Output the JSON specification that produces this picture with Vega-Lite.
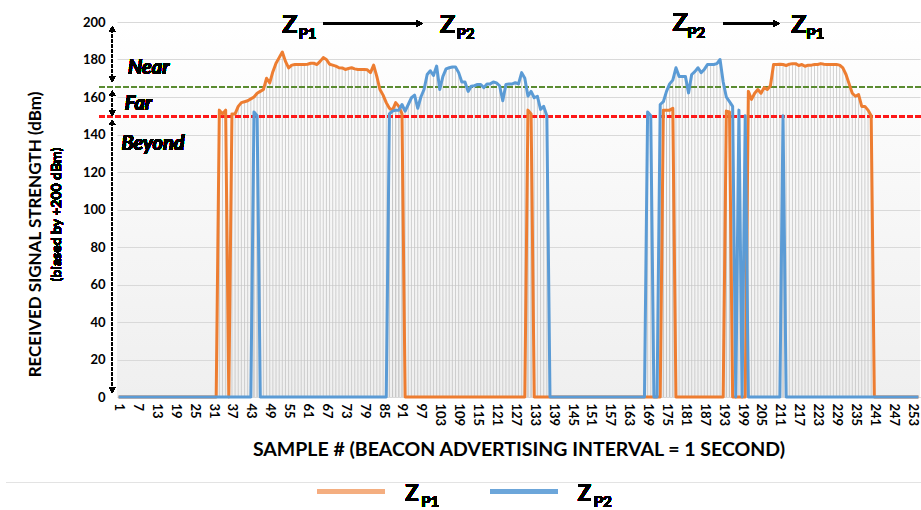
{
"$schema": "https://vega.github.io/schema/vega-lite/v6.json",
"width": 803, "height": 375,
"autosize": {"type": "none"},
"padding": {"left": 117, "top": 22, "right": 1, "bottom": 113},
"background": "white",
"config": {"font": "Lato", "view": {"stroke": null, "fill": {"gradient": "linear", "x1": 0, "y1": 0, "x2": 0, "y2": 1, "stops": [{"offset": 0, "color": "#ffffff"}, {"offset": 1, "color": "#efefef"}]}},
  "axis": {"labelOverlap": false, "labelFlush": false, "labelFontWeight": "bold", "labelColor": "#000", "titleColor": "#000", "titleFontWeight": "bold", "ticks": false}},
"resolve": {"axis": {"x": "independent", "y": "independent"}},
"data": {"values": [
{"s":1,"p1":0,"p2":0},{"s":2,"p1":0,"p2":0},{"s":3,"p1":0,"p2":0},{"s":4,"p1":0,"p2":0},{"s":5,"p1":0,"p2":0},{"s":6,"p1":0,"p2":0},{"s":7,"p1":0,"p2":0},{"s":8,"p1":0,"p2":0},{"s":9,"p1":0,"p2":0},{"s":10,"p1":0,"p2":0},
{"s":11,"p1":0,"p2":0},{"s":12,"p1":0,"p2":0},{"s":13,"p1":0,"p2":0},{"s":14,"p1":0,"p2":0},{"s":15,"p1":0,"p2":0},{"s":16,"p1":0,"p2":0},{"s":17,"p1":0,"p2":0},{"s":18,"p1":0,"p2":0},{"s":19,"p1":0,"p2":0},{"s":20,"p1":0,"p2":0},
{"s":21,"p1":0,"p2":0},{"s":22,"p1":0,"p2":0},{"s":23,"p1":0,"p2":0},{"s":24,"p1":0,"p2":0},{"s":25,"p1":0,"p2":0},{"s":26,"p1":0,"p2":0},{"s":27,"p1":0,"p2":0},{"s":28,"p1":0,"p2":0},{"s":29,"p1":0,"p2":0},{"s":30,"p1":0,"p2":0},
{"s":31,"p1":0,"p2":0},{"s":32,"p1":0,"p2":0},{"s":33,"p1":153,"p2":0},{"s":34,"p1":151,"p2":0},{"s":35,"p1":153,"p2":0},{"s":36,"p1":0,"p2":0},{"s":37,"p1":151,"p2":0},{"s":38,"p1":151,"p2":0},{"s":39,"p1":155,"p2":0},{"s":40,"p1":157,"p2":0},
{"s":41,"p1":157.5,"p2":0},{"s":42,"p1":158,"p2":0},{"s":43,"p1":159,"p2":0},{"s":44,"p1":160,"p2":152},{"s":45,"p1":162,"p2":150},{"s":46,"p1":163,"p2":0},{"s":47,"p1":164,"p2":0},{"s":48,"p1":170,"p2":0},{"s":49,"p1":167.5,"p2":0},{"s":50,"p1":173.5,"p2":0},
{"s":51,"p1":178,"p2":0},{"s":52,"p1":181,"p2":0},{"s":53,"p1":184,"p2":0},{"s":54,"p1":179,"p2":0},{"s":55,"p1":175.5,"p2":0},{"s":56,"p1":177,"p2":0},{"s":57,"p1":177.3,"p2":0},{"s":58,"p1":177.3,"p2":0},{"s":59,"p1":177.3,"p2":0},{"s":60,"p1":177.3,"p2":0},
{"s":61,"p1":177.5,"p2":0},{"s":62,"p1":178,"p2":0},{"s":63,"p1":178,"p2":0},{"s":64,"p1":177.3,"p2":0},{"s":65,"p1":179,"p2":0},{"s":66,"p1":181,"p2":0},{"s":67,"p1":180,"p2":0},{"s":68,"p1":177.5,"p2":0},{"s":69,"p1":177,"p2":0},{"s":70,"p1":176.5,"p2":0},
{"s":71,"p1":175.6,"p2":0},{"s":72,"p1":175.5,"p2":0},{"s":73,"p1":174.7,"p2":0},{"s":74,"p1":175.2,"p2":0},{"s":75,"p1":175.6,"p2":0},{"s":76,"p1":175,"p2":0},{"s":77,"p1":174.7,"p2":0},{"s":78,"p1":174.7,"p2":0},{"s":79,"p1":174.7,"p2":0},{"s":80,"p1":174.5,"p2":0},
{"s":81,"p1":173,"p2":0},{"s":82,"p1":177,"p2":0},{"s":83,"p1":171,"p2":0},{"s":84,"p1":164,"p2":0},{"s":85,"p1":161,"p2":0},{"s":86,"p1":157,"p2":0},{"s":87,"p1":154,"p2":151},{"s":88,"p1":153,"p2":152.5},{"s":89,"p1":157,"p2":153},{"s":90,"p1":155,"p2":153},
{"s":91,"p1":151,"p2":156},{"s":92,"p1":0,"p2":152.5},{"s":93,"p1":0,"p2":156},{"s":94,"p1":0,"p2":159.6},{"s":95,"p1":0,"p2":161},{"s":96,"p1":0,"p2":154},{"s":97,"p1":0,"p2":160},{"s":98,"p1":0,"p2":164},{"s":99,"p1":0,"p2":172},{"s":100,"p1":0,"p2":174},
{"s":101,"p1":0,"p2":171.5},{"s":102,"p1":0,"p2":176.5},{"s":103,"p1":0,"p2":164},{"s":104,"p1":0,"p2":171},{"s":105,"p1":0,"p2":175},{"s":106,"p1":0,"p2":175.6},{"s":107,"p1":0,"p2":176},{"s":108,"p1":0,"p2":176},{"s":109,"p1":0,"p2":173},{"s":110,"p1":0,"p2":168},
{"s":111,"p1":0,"p2":168},{"s":112,"p1":0,"p2":163},{"s":113,"p1":0,"p2":165.8},{"s":114,"p1":0,"p2":166},{"s":115,"p1":0,"p2":166.7},{"s":116,"p1":0,"p2":166.7},{"s":117,"p1":0,"p2":165},{"s":118,"p1":0,"p2":167},{"s":119,"p1":0,"p2":167},{"s":120,"p1":0,"p2":168},
{"s":121,"p1":0,"p2":167.5},{"s":122,"p1":0,"p2":166},{"s":123,"p1":0,"p2":158},{"s":124,"p1":0,"p2":166.7},{"s":125,"p1":0,"p2":167},{"s":126,"p1":0,"p2":167},{"s":127,"p1":0,"p2":167.6},{"s":128,"p1":0,"p2":167},{"s":129,"p1":0,"p2":173},{"s":130,"p1":0,"p2":170},
{"s":131,"p1":153,"p2":160.5},{"s":132,"p1":151,"p2":163},{"s":133,"p1":0,"p2":159.6},{"s":134,"p1":0,"p2":160.4},{"s":135,"p1":0,"p2":153.4},{"s":136,"p1":0,"p2":155},{"s":137,"p1":0,"p2":150},{"s":138,"p1":0,"p2":0},{"s":139,"p1":0,"p2":0},{"s":140,"p1":0,"p2":0},
{"s":141,"p1":0,"p2":0},{"s":142,"p1":0,"p2":0},{"s":143,"p1":0,"p2":0},{"s":144,"p1":0,"p2":0},{"s":145,"p1":0,"p2":0},{"s":146,"p1":0,"p2":0},{"s":147,"p1":0,"p2":0},{"s":148,"p1":0,"p2":0},{"s":149,"p1":0,"p2":0},{"s":150,"p1":0,"p2":0},
{"s":151,"p1":0,"p2":0},{"s":152,"p1":0,"p2":0},{"s":153,"p1":0,"p2":0},{"s":154,"p1":0,"p2":0},{"s":155,"p1":0,"p2":0},{"s":156,"p1":0,"p2":0},{"s":157,"p1":0,"p2":0},{"s":158,"p1":0,"p2":0},{"s":159,"p1":0,"p2":0},{"s":160,"p1":0,"p2":0},
{"s":161,"p1":0,"p2":0},{"s":162,"p1":0,"p2":0},{"s":163,"p1":0,"p2":0},{"s":164,"p1":0,"p2":0},{"s":165,"p1":0,"p2":0},{"s":166,"p1":0,"p2":0},{"s":167,"p1":0,"p2":0},{"s":168,"p1":0,"p2":0},{"s":169,"p1":0,"p2":152},{"s":170,"p1":0,"p2":150},
{"s":171,"p1":0,"p2":0},{"s":172,"p1":0,"p2":0},{"s":173,"p1":0,"p2":156},{"s":174,"p1":153,"p2":157.5},{"s":175,"p1":153,"p2":163},{"s":176,"p1":153,"p2":167},{"s":177,"p1":154,"p2":169},{"s":178,"p1":0,"p2":175.6},{"s":179,"p1":0,"p2":171},{"s":180,"p1":0,"p2":171},
{"s":181,"p1":0,"p2":171},{"s":182,"p1":0,"p2":162.2},{"s":183,"p1":0,"p2":172},{"s":184,"p1":0,"p2":173.5},{"s":185,"p1":0,"p2":175.6},{"s":186,"p1":0,"p2":173},{"s":187,"p1":0,"p2":174.7},{"s":188,"p1":0,"p2":177.3},{"s":189,"p1":0,"p2":177.3},{"s":190,"p1":0,"p2":177.3},
{"s":191,"p1":0,"p2":177.8},{"s":192,"p1":0,"p2":180},{"s":193,"p1":0,"p2":168},{"s":194,"p1":152.5,"p2":160},{"s":195,"p1":152,"p2":157.5},{"s":196,"p1":0,"p2":155},{"s":197,"p1":0,"p2":0},{"s":198,"p1":0,"p2":153},{"s":199,"p1":0,"p2":0},{"s":200,"p1":0,"p2":150},
{"s":201,"p1":163,"p2":0},{"s":202,"p1":158.7,"p2":0},{"s":203,"p1":162,"p2":0},{"s":204,"p1":164,"p2":0},{"s":205,"p1":162,"p2":0},{"s":206,"p1":165,"p2":0},{"s":207,"p1":164,"p2":0},{"s":208,"p1":166,"p2":0},{"s":209,"p1":177.3,"p2":0},{"s":210,"p1":177.3,"p2":0},
{"s":211,"p1":177.5,"p2":0},{"s":212,"p1":177.3,"p2":150},{"s":213,"p1":176.8,"p2":0},{"s":214,"p1":177.5,"p2":0},{"s":215,"p1":177.8,"p2":0},{"s":216,"p1":177.8,"p2":0},{"s":217,"p1":176.8,"p2":0},{"s":218,"p1":177.3,"p2":0},{"s":219,"p1":176.4,"p2":0},{"s":220,"p1":177,"p2":0},
{"s":221,"p1":177,"p2":0},{"s":222,"p1":177.3,"p2":0},{"s":223,"p1":177.3,"p2":0},{"s":224,"p1":177.8,"p2":0},{"s":225,"p1":177.5,"p2":0},{"s":226,"p1":177.3,"p2":0},{"s":227,"p1":177.3,"p2":0},{"s":228,"p1":177.3,"p2":0},{"s":229,"p1":177.3,"p2":0},{"s":230,"p1":177,"p2":0},
{"s":231,"p1":175.5,"p2":0},{"s":232,"p1":172,"p2":0},{"s":233,"p1":167,"p2":0},{"s":234,"p1":162,"p2":0},{"s":235,"p1":160.4,"p2":0},{"s":236,"p1":161.3,"p2":0},{"s":237,"p1":155,"p2":0},{"s":238,"p1":155,"p2":0},{"s":239,"p1":153,"p2":0},{"s":240,"p1":150,"p2":0},
{"s":241,"p1":0,"p2":0},{"s":242,"p1":0,"p2":0},{"s":243,"p1":0,"p2":0},{"s":244,"p1":0,"p2":0},{"s":245,"p1":0,"p2":0},{"s":246,"p1":0,"p2":0},{"s":247,"p1":0,"p2":0},{"s":248,"p1":0,"p2":0},{"s":249,"p1":0,"p2":0},{"s":250,"p1":0,"p2":0},
{"s":251,"p1":0,"p2":0},{"s":252,"p1":0,"p2":0},{"s":253,"p1":0,"p2":0},{"s":254,"p1":0,"p2":0},{"s":255,"p1":0,"p2":0}
]},
"layer": [
{"transform": [{"filter": "datum.p1 > 0"}],
 "mark": {"type": "rule", "color": "#c4c4c4", "strokeWidth": 0.8},
 "encoding": {
  "x": {"field": "s", "type": "quantitative", "title": "SAMPLE # (BEACON ADVERTISING INTERVAL = 1 SECOND)", "scale": {"domain": [0.5, 255.5], "nice": false, "zero": false},
        "axis": {"values": [1,7,13,19,25,31,37,43,49,55,61,67,73,79,85,91,97,103,109,115,121,127,133,139,145,151,157,163,169,175,181,187,193,199,205,211,217,223,229,235,241,247,253],
                 "labelAngle": 90, "labelAlign": "left", "labelBaseline": "middle", "labelFontSize": 13, "labelFontWeight": "bold", "labelColor": "#000", "labelPadding": 6, "labelOverlap": false, "labelFlush": false,
                 "ticks": false, "grid": false, "domain": true, "domainColor": "#d9d9d9",
                 "titleFontSize": 19.5, "titleFontWeight": "bold", "titleColor": "#000", "titlePadding": 15}},
  "y": {"field": "p1", "type": "quantitative", "title": "RECEIVED SIGNAL STRENGTH (dBm)", "scale": {"domain": [0, 200], "nice": false},
        "axis": {"values": [0,20,40,60,80,100,120,140,160,180,200], "grid": true, "gridColor": "#d9d9d9", "gridWidth": 1, "domain": false, "ticks": false,
                 "labelFontSize": 13, "labelFontWeight": "bold", "labelColor": "#000", "labelPadding": 12, "labelOverlap": false,
                 "titleFontSize": 17, "titleFontWeight": "bold", "titleColor": "#000",
                 "titleX": -82, "titleY": 212, "titleAngle": -90, "titleAlign": "center", "titleBaseline": "middle"}},
  "y2": {"datum": 0}}},
{"transform": [{"filter": "datum.p2 > 0"}],
 "mark": {"type": "rule", "color": "#c4c4c4", "strokeWidth": 0.8},
 "encoding": {"x": {"field": "s", "type": "quantitative", "axis": null}, "y": {"field": "p2", "type": "quantitative", "axis": null}, "y2": {"datum": 0}}},
{"mark": {"type": "rule", "color": "#5B8C32", "strokeDash": [5, 3], "strokeWidth": 1.5},
 "encoding": {"x": {"datum": -5, "axis": null}, "x2": {"datum": 256.1}, "y": {"datum": 165.4, "axis": null}}},
{"mark": {"type": "rule", "color": "#FF1A1A", "strokeDash": [5, 3], "strokeWidth": 1.5},
 "encoding": {"x": {"datum": -5, "axis": null}, "x2": {"datum": 256.1}, "y": {"datum": 149.6, "axis": null}}},
{"mark": {"type": "line", "color": "#ED7D31", "strokeWidth": 3, "strokeJoin": "round"},
 "encoding": {"x": {"field": "s", "type": "quantitative", "axis": null}, "y": {"field": "p1", "type": "quantitative", "axis": null}}},
{"mark": {"type": "line", "color": "#5B9BD5", "strokeWidth": 3, "strokeJoin": "round"},
 "encoding": {"x": {"field": "s", "type": "quantitative", "axis": null}, "y": {"field": "p2", "type": "quantitative", "axis": null}}},

{"mark": {"type": "rule", "color": "#000", "strokeDash": [3, 2], "strokeWidth": 1.2},
 "encoding": {"x": {"datum": -1, "axis": null}, "y": {"datum": 196, "axis": null}, "y2": {"datum": 169.5}}},
{"mark": {"type": "rule", "color": "#000", "strokeDash": [3, 2], "strokeWidth": 1.2},
 "encoding": {"x": {"datum": -1, "axis": null}, "y": {"datum": 162, "axis": null}, "y2": {"datum": 151.5}}},
{"mark": {"type": "rule", "color": "#000", "strokeDash": [3, 2], "strokeWidth": 1.2},
 "encoding": {"x": {"datum": -1, "axis": null}, "y": {"datum": 146.5, "axis": null}, "y2": {"datum": 3.5}}},
{"mark": {"type": "point", "shape": "triangle-up", "filled": true, "color": "#000", "opacity": 1, "size": 35},
 "encoding": {"x": {"datum": -1, "axis": null}, "y": {"datum": 196.2, "axis": null}}},
{"mark": {"type": "point", "shape": "triangle-down", "filled": true, "color": "#000", "opacity": 1, "size": 35},
 "encoding": {"x": {"datum": -1, "axis": null}, "y": {"datum": 169.5, "axis": null}}},
{"mark": {"type": "point", "shape": "triangle-up", "filled": true, "color": "#000", "opacity": 1, "size": 35},
 "encoding": {"x": {"datum": -1, "axis": null}, "y": {"datum": 162, "axis": null}}},
{"mark": {"type": "point", "shape": "triangle-down", "filled": true, "color": "#000", "opacity": 1, "size": 35},
 "encoding": {"x": {"datum": -1, "axis": null}, "y": {"datum": 151.4, "axis": null}}},
{"mark": {"type": "point", "shape": "triangle-up", "filled": true, "color": "#000", "opacity": 1, "size": 35},
 "encoding": {"x": {"datum": -1, "axis": null}, "y": {"datum": 146.4, "axis": null}}},
{"mark": {"type": "point", "shape": "triangle-down", "filled": true, "color": "#000", "opacity": 1, "size": 35},
 "encoding": {"x": {"datum": -1, "axis": null}, "y": {"datum": 3.6, "axis": null}}},

{"mark": {"type": "text", "text": "Near", "font": "Lato", "fontSize": 20, "fontWeight": "bold", "fontStyle": "italic", "align": "left", "baseline": "alphabetic", "color": "#000"},
 "encoding": {"x": {"datum": 4, "axis": null}, "y": {"datum": 172.5, "axis": null}}},
{"mark": {"type": "text", "text": "Far", "font": "Lato", "fontSize": 20, "fontWeight": "bold", "fontStyle": "italic", "align": "left", "baseline": "alphabetic", "color": "#000"},
 "encoding": {"x": {"datum": 3, "axis": null}, "y": {"datum": 153.2, "axis": null}}},
{"mark": {"type": "text", "text": "Beyond", "font": "Lato", "fontSize": 20, "fontWeight": "bold", "fontStyle": "italic", "align": "left", "baseline": "alphabetic", "color": "#000"},
 "encoding": {"x": {"datum": 1.9, "axis": null}, "y": {"datum": 131.5, "axis": null}}},

{"mark": {"type": "text", "text": "(biased by +200 dBm)", "font": "Lato", "fontSize": 14, "fontWeight": "bold", "angle": 270, "align": "center", "baseline": "middle", "color": "#000"},
 "encoding": {"x": {"datum": -18.4, "axis": null}, "y": {"datum": 97.3, "axis": null}}},

{"mark": {"type": "rule", "color": "#000", "strokeWidth": 1.8},
 "encoding": {"x": {"datum": 66, "axis": null}, "x2": {"datum": 96.6}, "y": {"datum": 199.2, "axis": null}}},
{"mark": {"type": "point", "shape": "triangle-right", "filled": true, "color": "#000", "opacity": 1, "size": 45},
 "encoding": {"x": {"datum": 96.6, "axis": null}, "y": {"datum": 199.2, "axis": null}}},
{"mark": {"type": "rule", "color": "#000", "strokeWidth": 1.8},
 "encoding": {"x": {"datum": 193.2, "axis": null}, "x2": {"datum": 209.9}, "y": {"datum": 199.2, "axis": null}}},
{"mark": {"type": "point", "shape": "triangle-right", "filled": true, "color": "#000", "opacity": 1, "size": 45},
 "encoding": {"x": {"datum": 209.9, "axis": null}, "y": {"datum": 199.2, "axis": null}}},

{"mark": {"type": "text", "text": "Z", "font": "Lato", "fontSize": 25, "fontWeight": "bold", "align": "center", "baseline": "alphabetic", "color": "#000"},
 "encoding": {"x": {"datum": 55.4, "axis": null}, "y": {"datum": 194.3, "axis": null}}},
{"mark": {"type": "text", "text": "P1", "font": "Lato", "fontSize": 15, "fontWeight": "bold", "align": "left", "baseline": "alphabetic", "color": "#000"},
 "encoding": {"x": {"datum": 58.1, "axis": null}, "y": {"datum": 190.9, "axis": null}}},
{"mark": {"type": "text", "text": "Z", "font": "Lato", "fontSize": 25, "fontWeight": "bold", "align": "center", "baseline": "alphabetic", "color": "#000"},
 "encoding": {"x": {"datum": 105.5, "axis": null}, "y": {"datum": 194.3, "axis": null}}},
{"mark": {"type": "text", "text": "P2", "font": "Lato", "fontSize": 15, "fontWeight": "bold", "align": "left", "baseline": "alphabetic", "color": "#000"},
 "encoding": {"x": {"datum": 108.3, "axis": null}, "y": {"datum": 190.9, "axis": null}}},
{"mark": {"type": "text", "text": "Z", "font": "Lato", "fontSize": 25, "fontWeight": "bold", "align": "center", "baseline": "alphabetic", "color": "#000"},
 "encoding": {"x": {"datum": 179.4, "axis": null}, "y": {"datum": 195, "axis": null}}},
{"mark": {"type": "text", "text": "P2", "font": "Lato", "fontSize": 15, "fontWeight": "bold", "align": "left", "baseline": "alphabetic", "color": "#000"},
 "encoding": {"x": {"datum": 181.6, "axis": null}, "y": {"datum": 191.5, "axis": null}}},
{"mark": {"type": "text", "text": "Z", "font": "Lato", "fontSize": 25, "fontWeight": "bold", "align": "center", "baseline": "alphabetic", "color": "#000"},
 "encoding": {"x": {"datum": 217, "axis": null}, "y": {"datum": 194.3, "axis": null}}},
{"mark": {"type": "text", "text": "P1", "font": "Lato", "fontSize": 15, "fontWeight": "bold", "align": "left", "baseline": "alphabetic", "color": "#000"},
 "encoding": {"x": {"datum": 219.4, "axis": null}, "y": {"datum": 190.7, "axis": null}}},

{"mark": {"type": "rule", "color": "#e3e3e3", "strokeWidth": 1},
 "encoding": {"x": {"datum": -34.6, "axis": null}, "x2": {"datum": 256.8}, "y": {"datum": -45.6, "axis": null}}},
{"mark": {"type": "rule", "color": "#F4AE80", "strokeWidth": 4},
 "encoding": {"x": {"datum": 64.3, "axis": null}, "x2": {"datum": 85.6}, "y": {"datum": -50.4, "axis": null}}},
{"mark": {"type": "rule", "color": "#6CA6DA", "strokeWidth": 4},
 "encoding": {"x": {"datum": 119, "axis": null}, "x2": {"datum": 140.3}, "y": {"datum": -50.4, "axis": null}}},
{"mark": {"type": "text", "text": "Z", "font": "Lato", "fontSize": 22, "fontWeight": "bold", "align": "left", "baseline": "alphabetic", "color": "#000"},
 "encoding": {"x": {"datum": 92, "axis": null}, "y": {"datum": -55.7, "axis": null}}},
{"mark": {"type": "text", "text": "P1", "font": "Lato", "fontSize": 15, "fontWeight": "bold", "align": "left", "baseline": "alphabetic", "color": "#000"},
 "encoding": {"x": {"datum": 97.1, "axis": null}, "y": {"datum": -58.6, "axis": null}}},
{"mark": {"type": "text", "text": "Z", "font": "Lato", "fontSize": 22, "fontWeight": "bold", "align": "left", "baseline": "alphabetic", "color": "#000"},
 "encoding": {"x": {"datum": 146.8, "axis": null}, "y": {"datum": -55.7, "axis": null}}},
{"mark": {"type": "text", "text": "P2", "font": "Lato", "fontSize": 15, "fontWeight": "bold", "align": "left", "baseline": "alphabetic", "color": "#000"},
 "encoding": {"x": {"datum": 151.9, "axis": null}, "y": {"datum": -58.6, "axis": null}}}
]
}
